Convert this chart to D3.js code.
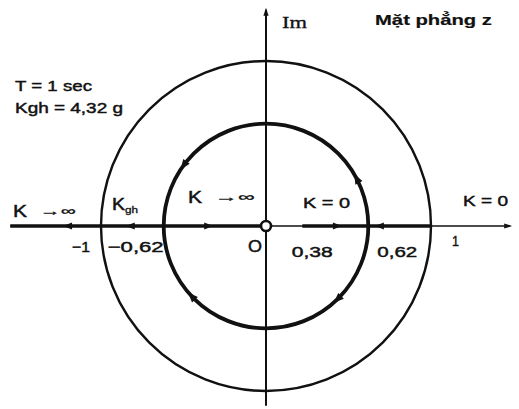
<!DOCTYPE html>
<html>
<head>
<meta charset="utf-8">
<script src="https://cdn.jsdelivr.net/npm/d3@7"></script>
<style>
  html, body { margin: 0; padding: 0; background: #fff; }
  svg { display: block; }
  text { font-family: "Liberation Sans", Arial, Helvetica, sans-serif; fill: #111; stroke: #111; stroke-width: 0.45px; }
</style>
</head>
<body>
<div id="chart"></div>
<script>
// Root locus in the z-plane (T = 1 sec)
const circleRadii = [1, 0.62];                 // unit circle, locus circle
const realAxisExtent = [-1.55, 1.48];
const imagAxisExtent = [-1.09, 1.31];
const locusSegments = [[-1.55, 0], [0.22, 1]];  // thick parts of the real axis
const realArrowValues = [-1.23, -0.85, -0.32, 0.46, 0.66];
const realArrowDirs   = [-1, -1, 1, 1, -1];
const circleArrowAngles = [28, 144, 223, 314];  // degrees on the locus circle
const circleArrowDirs   = [1, 1, -1, -1];       // +1 counter-clockwise, -1 clockwise
const tickValues = [-1, -0.62, 0.38, 0.62, 1];
const tickLabels = ["−1", "−0,62", "0,38", "0,62", "1"];
const infoLines = ["T = 1 sec", "Kgh = 4,32 g"];
const planeTitle = "Mặt phẳng z";
const imagLabel = "Im";
const originLabel = "O";
const gainLabels = ["K", "K", "K", "K = 0", "K = 0"];

const W = 519, H = 409;
const cx = 266, cy = 226, R = 165;

const svg = d3.select("#chart").append("svg")
  .attr("width", W).attr("height", H);

const x = d3.scaleLinear().domain([-1, 1]).range([cx - R, cx + R]);
const y = d3.scaleLinear().domain([-1, 1]).range([cy + R, cy - R]);

const ink = "#111";

// arrowhead helper: tip at (px,py) pointing along (ux,uy)
function arrowHead(px, py, ux, uy, len, half) {
  const bx = px - ux * len, by = py - uy * len;
  const nx = -uy, ny = ux;
  return `M${px},${py}L${bx + nx * half},${by + ny * half}L${bx - nx * half},${by - ny * half}Z`;
}

// real axis (thin)
svg.append("line")
  .attr("x1", x(realAxisExtent[0])).attr("x2", x(realAxisExtent[1]))
  .attr("y1", y(0)).attr("y2", y(0))
  .attr("stroke", ink).attr("stroke-width", 1.6);
svg.append("path")
  .attr("d", arrowHead(x(realAxisExtent[1]) + 2, y(0), 1, 0, 8, 2.6))
  .attr("fill", ink);

// imaginary axis
svg.append("line")
  .attr("x1", x(0)).attr("x2", x(0))
  .attr("y1", y(imagAxisExtent[0])).attr("y2", y(imagAxisExtent[1]))
  .attr("stroke", ink).attr("stroke-width", 2);
svg.append("path")
  .attr("d", arrowHead(x(0), y(imagAxisExtent[1]) - 2, 0, -1, 8, 2.6))
  .attr("fill", ink);

// circles
svg.selectAll("circle.ring").data(circleRadii).join("circle")
  .attr("class", "ring")
  .attr("cx", x(0)).attr("cy", y(0))
  .attr("r", d => x(d) - x(0))
  .attr("fill", "none").attr("stroke", ink)
  .attr("stroke-width", (d, i) => i === 0 ? 2.4 : 3.8);

// thick locus segments on the real axis
svg.selectAll("line.seg").data(locusSegments).join("line")
  .attr("class", "seg")
  .attr("x1", d => x(d[0])).attr("x2", d => x(d[1]))
  .attr("y1", y(0)).attr("y2", y(0))
  .attr("stroke", ink).attr("stroke-width", 3.4);

// arrows along the real axis
svg.selectAll("path.rarrow").data(realArrowValues).join("path")
  .attr("class", "rarrow")
  .attr("d", (v, i) => arrowHead(x(v), y(0), realArrowDirs[i], 0, 9, 3.6))
  .attr("fill", ink);

// arrows along the locus circle
const rIn = circleRadii[1];
svg.selectAll("path.carrow").data(circleArrowAngles).join("path")
  .attr("class", "carrow")
  .attr("d", (a, i) => {
    const t = a * Math.PI / 180;
    const px = x(rIn * Math.cos(t)), py = y(rIn * Math.sin(t));
    const s = circleArrowDirs[i];
    const ux = -Math.sin(t) * s, uy = -Math.cos(t) * s;
    return arrowHead(px + ux * 4.5, py + uy * 4.5, ux, uy, 10, 4);
  })
  .attr("fill", ink);

// origin marker
svg.append("circle")
  .attr("cx", x(0)).attr("cy", y(0)).attr("r", 5)
  .attr("fill", "#fff").attr("stroke", ink).attr("stroke-width", 2.6);

// text helper
function label(txt, px, py, size, opts = {}) {
  const t = svg.append("text")
    .attr("x", px).attr("y", py)
    .attr("font-size", size)
    .text(txt);
  if (opts.weight) t.attr("font-weight", opts.weight);
  if (opts.family) t.style("font-family", opts.family);
  if (opts.stroke !== undefined) t.style("stroke-width", opts.stroke);
  if (opts.width) t.attr("textLength", opts.width).attr("lengthAdjust", "spacingAndGlyphs");
  return t;
}

// titles
label(imagLabel, x(0) + 16, 28, 17, { family: '"Liberation Serif", "Times New Roman", serif', width: 25, stroke: 0.3 });
label(planeTitle, 375, 25, 15, { weight: "bold", width: 117, stroke: 0.2 });
label(infoLines[0], 15, 91, 15, { width: 77 });
label(infoLines[1], 15, 113, 15, { width: 108 });

// gain annotations
label(gainLabels[0], 13, 217, 17, { width: 14 });
label("→∞", 40, 215, 12, { width: 36, stroke: 0.3 });
label(gainLabels[1], 112, 210, 16, { width: 13 });
label("gh", 125, 213, 9, { width: 13, stroke: 0.3 });
label(gainLabels[2], 188, 203, 17, { width: 14 });
label("→∞", 215, 201, 12, { width: 40, stroke: 0.3 });
label(gainLabels[3], 303, 208, 15, { width: 47 });
label(gainLabels[4], 463, 206, 15, { width: 45 });

// origin label
label(originLabel, 248, 252, 16, { width: 14 });

// real-axis value labels, placed next to their crossing points
const tickLayout = [
  { dx: -11, dy: 26, end: true,  w: 18 },
  { dx: 0,   dy: 26, end: true,  w: 56 },
  { dx: 4,   dy: 31, end: true,  w: 41 },
  { dx: 49,  dy: 31, end: true,  w: 40 },
  { dx: 21,  dy: 20, end: false, w: 7 }
];
tickValues.forEach((v, i) => {
  const L = tickLayout[i];
  const px = L.end ? x(v) + L.dx - L.w : x(v) + L.dx;
  label(tickLabels[i], px, y(0) + L.dy, 15, { width: L.w });
});
</script>
</body>
</html>
